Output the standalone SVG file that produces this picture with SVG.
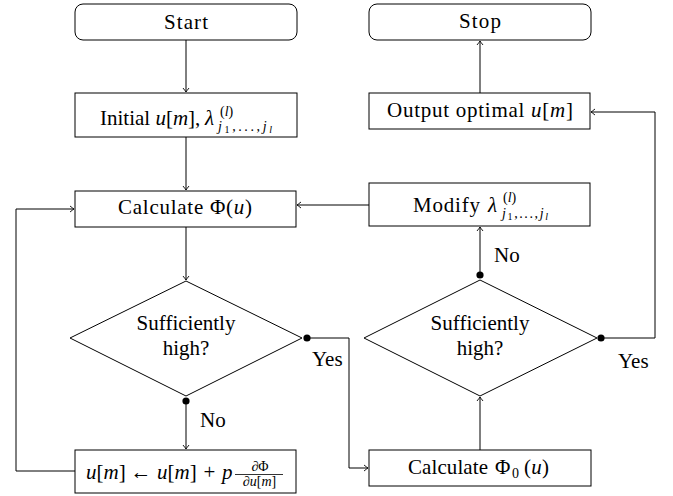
<svg xmlns="http://www.w3.org/2000/svg" width="673" height="496" viewBox="0 0 673 496" font-family="'Liberation Serif', 'Times New Roman', 'DejaVu Serif', serif">
<style>
.box{fill:#fff;stroke:#000;stroke-width:1}
.con{fill:none;stroke:#000;stroke-width:1}
text{font-family:'Liberation Serif','Times New Roman','DejaVu Serif',serif;font-size:21px;fill:#000}
.c{text-anchor:middle}
.i{font-style:italic}
.s{font-size:14px}
</style>
<defs>
<marker id="arr" markerUnits="userSpaceOnUse" viewBox="-5 -4 6 8" refX="0" refY="0" markerWidth="6" markerHeight="8" orient="auto">
<path d="M-4,-3 Q-1,-0.6 0,0 Q-1,0.6 -4,3" fill="none" stroke="#000" stroke-width="0.9"/>
</marker>
</defs>
<g id="connectors">
<path class="con" d="M186,40 V92" marker-end="url(#arr)"/>
<path class="con" d="M186,137 V190" marker-end="url(#arr)"/>
<path class="con" d="M186,227 V280" marker-end="url(#arr)"/>
<path class="con" d="M186,401 V449" marker-end="url(#arr)"/>
<path class="con" d="M75,471 H16 V209 H74" marker-end="url(#arr)"/>
<path class="con" d="M307,338 H349 V468 H368" marker-end="url(#arr)"/>
<path class="con" d="M480,450 V397" marker-end="url(#arr)"/>
<path class="con" d="M480,275 V227" marker-end="url(#arr)"/>
<path class="con" d="M369,205 H297" marker-end="url(#arr)"/>
<path class="con" d="M601,338 H655 V112 H591" marker-end="url(#arr)"/>
<path class="con" d="M480,93 V41" marker-end="url(#arr)"/>
<circle cx="307" cy="338" r="3.6"/>
<circle cx="186" cy="401" r="3.6"/>
<circle cx="480" cy="275" r="3.6"/>
<circle cx="601" cy="338" r="3.6"/>
<text x="312" y="366">Yes</text>
<text x="200" y="427">No</text>
<text x="494" y="262">No</text>
<text x="618" y="368">Yes</text>
</g>
<g id="start">
<rect class="box" x="75" y="4" width="222" height="36" rx="8"/>
<text class="c" x="186" y="29" textLength="44">Start</text>
</g>
<g id="initial">
<rect class="box" x="75" y="93" width="222" height="44"/>
<text x="100" y="125">Initial <tspan class="i">u</tspan>[<tspan class="i">m</tspan>],</text>
<text x="205" y="125" class="i">λ</text>
<text x="220" y="116" class="s">(<tspan class="i">l</tspan>)</text>
<text x="218" y="131" class="s" textLength="54"><tspan class="i">j</tspan><tspan font-size="10" dy="2">1</tspan><tspan dy="-2">,...,</tspan><tspan class="i">j</tspan><tspan class="i" font-size="10" dy="2">l</tspan></text>
</g>
<g id="calc">
<rect class="box" x="75" y="191" width="221" height="36"/>
<text x="118" y="214" textLength="134">Calculate Φ(<tspan class="i">u</tspan>)</text>
</g>
<g id="decision1">
<polygon class="box" points="70,338 186,281 302,338 186,396"/>
<text class="c" x="186" y="330">Sufficiently</text>
<text class="c" x="186" y="355">high?</text>
</g>
<g id="update">
<rect class="box" x="75" y="450" width="221" height="43"/>
<text x="86" y="479"><tspan class="i">u</tspan>[<tspan class="i">m</tspan>]</text>
<text class="c" x="141" y="479">←</text>
<text x="157" y="479"><tspan class="i">u</tspan>[<tspan class="i">m</tspan>]</text>
<text class="c" x="209.5" y="479">+</text>
<text x="222" y="479" class="i">p</text>
<text class="c s" x="260" y="471">∂Φ</text>
<line x1="235" y1="474.5" x2="283" y2="474.5" stroke="#000" stroke-width="0.8"/>
<text class="c s" x="259.5" y="486">∂<tspan class="i">u</tspan>[<tspan class="i">m</tspan>]</text>
</g>
<g id="stop">
<rect class="box" x="369" y="4" width="222" height="36" rx="8"/>
<text class="c" x="480" y="28" textLength="42">Stop</text>
</g>
<g id="output">
<rect class="box" x="369" y="93" width="221" height="36"/>
<text x="387" y="117" textLength="186">Output optimal <tspan class="i">u</tspan>[<tspan class="i">m</tspan>]</text>
</g>
<g id="modify">
<rect class="box" x="369" y="183" width="221" height="43"/>
<text x="413" y="212" textLength="67">Modify</text>
<text x="488" y="212" class="i">λ</text>
<text x="503" y="202" class="s">(<tspan class="i">l</tspan>)</text>
<text x="502" y="218" class="s" textLength="46"><tspan class="i">j</tspan><tspan font-size="10" dy="2">1</tspan><tspan dy="-2">,...,</tspan><tspan class="i">j</tspan><tspan class="i" font-size="10" dy="2">l</tspan></text>
</g>
<g id="decision2">
<polygon class="box" points="364,338 480,280 597,338 480,396"/>
<text class="c" x="480" y="330">Sufficiently</text>
<text class="c" x="480" y="355">high?</text>
</g>
<g id="calc0">
<rect class="box" x="369" y="450" width="222" height="36"/>
<text x="408" y="474" textLength="80">Calculate</text>
<text x="495" y="474">Φ</text>
<text x="512" y="478" class="s">0</text>
<text x="524" y="474" textLength="25">(<tspan class="i">u</tspan>)</text>
</g>
</svg>
